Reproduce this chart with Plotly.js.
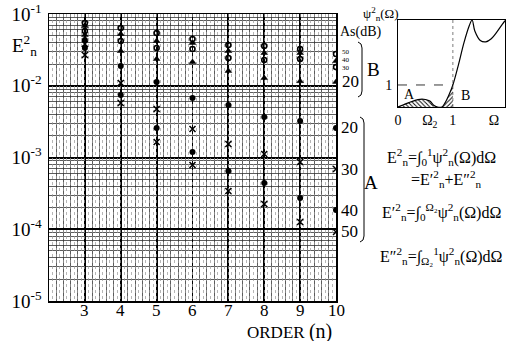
<!DOCTYPE html>
<html><head><meta charset="utf-8">
<script src="https://cdn.plot.ly/plotly-3.0.1.min.js"></script>
<style>body{margin:0;background:#fff}#c{width:511px;height:341px}</style>
</head><body><div id="c"></div>
<script>
// ---- data ----
const orders=[3,4,5,6,7,8,9,10];
const b50=[0.0750,0.0638,0.0543,0.0449,0.0370,0.0358,0.0325,0.0277];
const b40=[0.0681,0.0526,0.0421,0.0395,0.0305,0.0286,0.0286,0.0221];
const b30=[0.0579,0.0421,0.0336,0.0325,0.0244,0.0229,0.0236,0.0182];
const b20=[0.0510,0.0305,0.0236,0.0214,0.0161,0.0128,0.0116,0.0113];
const a20=[0.0434,0.0188,0.0113,0.00675,0.00539,0.00367,0.00323,0.00258];
const a30=[0.0382,0.0109,0.00474,0.00249,0.00154,0.00112,0.000865,0.000691];
const a40=[0.0336,0.00743,0.00258,0.00119,0.000648,0.000441,0.000273,0.000185];
const a50=[0.0268,0.00575,0.00164,0.000785,0.000341,0.000225,0.000126,0.0000916];
const xTicks=[3,4,5,6,7,8,9,10];
const yTicks=[1e-5,1e-4,1e-3,1e-2,1e-1];
const yTickText=['10<sup>-5</sup>','10<sup>-4</sup>','10<sup>-3</sup>','10<sup>-2</sup>','10<sup>-1</sup>'];
const asLabelsB=['50','40','30','20'];
const asLabelsA=['20','30','40','50'];
// inset curve psi_n^2(Omega)
const omega=[0,0.1,0.2,0.3,0.4,0.5,0.58,0.65,0.72,0.8,0.86,0.92,1.0,1.1,1.2,1.3,1.35,1.4,1.5,1.6,1.7,1.8,1.9,1.95];
const psi=[0,0.1,0.2,0.29,0.35,0.34,0.27,0.08,0,0,0.2,0.5,1.0,1.9,2.9,3.7,3.95,3.45,3.02,2.96,3.1,3.4,3.75,3.92];
const omega2=0.58, omegaMax=1.95, psiMax=3.95, unitLevel=1;
const insetXTicks=[0,omega2,1,1.75];
const insetXText=['0','Ω<sub>2</sub>','1','Ω'];

// ---- layout helpers ----
const L=49,R=505,T=14,B=301,W=R-L,H=B-T;
const px=x=>(x-L)/W, py=y=>(B-y)/H;
const serif='"Liberation Serif", serif';
const blk='#000';

const mk=(y,sym,size,lw)=>({x:orders,y:y,mode:'markers',type:'scatter',xaxis:'x',yaxis:'y',
  marker:{symbol:sym,size:size,color:blk,line:{color:blk,width:lw}},showlegend:false,hoverinfo:'skip'});

const regA=omega.map((o,i)=>[o,psi[i]]).filter(p=>p[0]<=0.66);
const regB=omega.map((o,i)=>[o,psi[i]]).filter(p=>p[0]>=0.72&&p[0]<=1.0);

const traces=[
  {x:[],y:[],xaxis:'x2',yaxis:'y',type:'scatter',showlegend:false},
  mk(b50,'circle-open',5,1.6),
  mk(b40,'triangle-up',6,0.5),
  mk(b30,'circle-open',5,1.6),
  mk(b20,'triangle-up',6,0.5),
  mk(a20,'circle',6,0),
  mk(a30,'x-thin',6,1.5),
  mk(a40,'circle',6,0),
  mk(a50,'x-thin',6,1.5),
  // inset hatched regions
  {x:regA.map(p=>p[0]),y:regA.map(p=>p[1]),xaxis:'x3',yaxis:'y3',type:'scatter',mode:'lines',
   line:{width:0,shape:'spline'},fill:'tozeroy',fillcolor:'rgba(0,0,0,0)',
   fillpattern:{shape:'\\',fgcolor:'#000',bgcolor:'#fff',size:3,solidity:0.3},showlegend:false,hoverinfo:'skip'},
  {x:regB.map(p=>p[0]),y:regB.map(p=>p[1]),xaxis:'x3',yaxis:'y3',type:'scatter',mode:'lines',
   line:{width:0,shape:'spline'},fill:'tozeroy',fillcolor:'rgba(0,0,0,0)',
   fillpattern:{shape:'/',fgcolor:'#000',bgcolor:'#fff',size:3,solidity:0.3},showlegend:false,hoverinfo:'skip'},
  {x:omega,y:psi,xaxis:'x3',yaxis:'y3',type:'scatter',mode:'lines',line:{color:blk,width:1.2,shape:'spline'},showlegend:false,hoverinfo:'skip'},
  {x:[0,1],y:[unitLevel,unitLevel],xaxis:'x3',yaxis:'y3',type:'scatter',mode:'lines',line:{color:blk,width:0.8,dash:'dash'},showlegend:false,hoverinfo:'skip'},
  {x:[1,1],y:[0,psiMax],xaxis:'x3',yaxis:'y3',type:'scatter',mode:'lines',line:{color:'#444',width:0.7,dash:'dot'},showlegend:false,hoverinfo:'skip'}
];

const mainXDom=[0,px(336)];
const ann=[];
const A=(text,x,y,size,extra)=>ann.push(Object.assign({text:text,x:x,y:y,xref:'paper',yref:'paper',showarrow:false,
  font:{family:serif,size:size,color:blk},xanchor:'center',yanchor:'middle'},extra||{}));

// x tick labels
xTicks.forEach(t=>ann.push({text:String(t),x:t,y:py(310),xref:'x',yref:'paper',showarrow:false,borderpad:0,
  xanchor:'center',yanchor:'middle',font:{family:serif,size:17,color:blk}}));
A('E<sup>2</sup><sub>n</sub>',px(24),py(46),19);
A('ORDER <span style="font-size:20px">(n)</span>',px(289),py(331),17,{borderpad:0});
A('As(dB)',px(338),py(32),14,{xanchor:'left'});
const bVals=[b50[7],b40[7],b30[7],b20[7]];
const bShift=[2,1,-1,0];
bVals.forEach((v,i)=>ann.push({text:asLabelsB[i],x:px(340),y:Math.log10(v),xref:'paper',yref:'y',showarrow:false,
  xanchor:'left',yanchor:'middle',yshift:bShift[i],font:{family:serif,size:i<3?7:17,color:blk}}));
const aVals=[a20[7],a30[7],a40[7],a50[7]];
aVals.forEach((v,i)=>ann.push({text:asLabelsA[i],x:px(339),y:Math.log10(v),xref:'paper',yref:'y',showarrow:false,
  xanchor:'left',yanchor:'middle',font:{family:serif,size:17,color:blk}}));
A('B',px(373),py(69),19);
A('A',px(371),py(182),19);
A('ψ<sup>2</sup><sub>n</sub>(Ω)',px(381),py(14),13);
A('A',px(409),py(94),14);
A('B',px(465),py(95),14);
A('E<sup>2</sup><sub>n</sub>=∫<sub>0</sub><sup>1</sup>ψ<sup>2</sup><sub>n</sub>(Ω)dΩ',px(441),py(157),16);
A('=E′<sup>2</sup><sub>n</sub>+E″<sup>2</sup><sub>n</sub>',px(446),py(179),16);
A('E′<sup>2</sup><sub>n</sub>=∫<sub>0</sub><sup>Ω₂</sup>ψ<sup>2</sup><sub>n</sub>(Ω)dΩ',px(441),py(212),16);
A('E″<sup>2</sup><sub>n</sub>=∫<sub>Ω₂</sub><sup>1</sup>ψ<sup>2</sup><sub>n</sub>(Ω)dΩ',px(441),py(256),16);

const brace=(x,y0,y1)=>({type:'path',xref:'paper',yref:'paper',line:{color:blk,width:1},
  path:`M ${px(x-4)} ${py(y0)} Q ${px(x)} ${py(y0+1)} ${px(x)} ${py(y0+6)} L ${px(x)} ${py(y1-6)} Q ${px(x)} ${py(y1-1)} ${px(x-4)} ${py(y1)}`});

const layout={
  width:511,height:341,margin:{l:L,r:511-R,t:T,b:341-B},
  paper_bgcolor:'#fff',plot_bgcolor:'#fff',showlegend:false,
  font:{family:serif,color:blk},
  xaxis:{domain:mainXDom,range:[2,10],tickvals:xTicks,showticklabels:false,showgrid:true,gridcolor:'#000',gridwidth:1.8,
    zeroline:false,showline:true,mirror:true,linecolor:'#000',linewidth:1.5,ticks:'',
    minor:{dtick:0.2,tick0:0,showgrid:true,gridcolor:'#333',gridwidth:0.8}},
  xaxis2:{overlaying:'x',range:[2,10],matches:'x',showticklabels:false,showgrid:true,dtick:0.1,tick0:0,
    gridcolor:'#999',gridwidth:0.7,griddash:'dot',zeroline:false,ticks:''},
  yaxis:{type:'log',range:[-5,-1],tickvals:yTicks,ticktext:yTickText,showgrid:true,gridcolor:'#000',gridwidth:2,
    zeroline:false,showline:true,mirror:true,linecolor:'#000',linewidth:1.5,ticks:'',ticklabelstandoff:2,
    tickfont:{family:serif,size:19,color:blk},
    minor:{dtick:'D1',showgrid:true,gridcolor:'#333',gridwidth:0.8}},
  xaxis3:{domain:[px(398),px(505)],anchor:'y3',range:[0,omegaMax],tickvals:insetXTicks,ticktext:insetXText,
    showgrid:false,zeroline:false,showline:true,mirror:true,linecolor:'#000',linewidth:1,ticks:'',
    tickfont:{family:serif,size:14,color:blk},ticklabelstandoff:0},
  yaxis3:{domain:[py(107),py(20)],anchor:'x3',range:[0,psiMax],tickvals:[unitLevel],ticktext:['1'],
    showgrid:false,zeroline:false,showline:true,mirror:true,linecolor:'#000',linewidth:1,ticks:'',
    tickfont:{family:serif,size:14,color:blk},ticklabelstandoff:2},
  annotations:ann,
  shapes:[brace(362,42,97),brace(364,117,242)]
};
Plotly.newPlot('c',traces,layout,{staticPlot:true,displayModeBar:false});
</script></body></html>
